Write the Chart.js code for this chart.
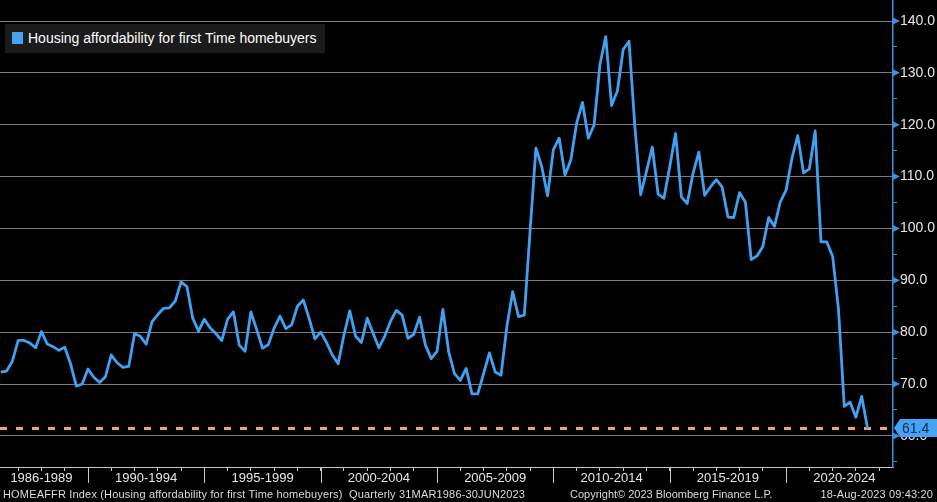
<!DOCTYPE html>
<html lang="en">
<head>
<meta charset="UTF-8" />
<title>HOMEAFFR Index</title>
<script src="https://cdn.jsdelivr.net/npm/chart.js@4.4.1/dist/chart.umd.min.js"></script>
<style>
*,*::before,*::after{box-sizing:border-box}
html,body{margin:0;padding:0;background:#000}
.wrap{position:relative;width:937px;height:502px;background:#000;font-family:"Liberation Sans",Arial,sans-serif}
#chart{display:block}
/* legend box, top left */
.legend{position:absolute;left:5px;top:24px;width:320px;height:29px;background:#1b1b1b;color:#fff;font-size:14px;line-height:29px;padding-left:23px;white-space:nowrap}
.legend i{position:absolute;left:7px;top:8px;width:11px;height:12px;background:#46a2f2}
/* footer line */
.foot{position:absolute;top:487px;font-size:11px;line-height:14px;color:#dcdcdc;white-space:nowrap}
</style>
</head>
<body>
<div class="wrap">
  <canvas id="chart" width="937" height="502"></canvas>
  <div class="legend"><i></i>Housing affordability for first Time homebuyers</div>
  <div class="foot" style="left:3px;letter-spacing:.17px">HOMEAFFR Index (Housing affordability for first Time homebuyers)&nbsp; Quarterly 31MAR1986-30JUN2023</div>
  <div class="foot" style="left:570px">Copyright&copy; 2023 Bloomberg Finance L.P.</div>
  <div class="foot" style="right:4px;letter-spacing:.15px">18-Aug-2023 09:43:20</div>
</div>

<script>
/* ── data: quarterly, 1986 Q1 .. 2023 Q2 ─────────────────────────── */
const firstQuarter = 1986.25;   // end of Q1 1986, in years
const quarterStep  = 0.25;
const affordability = [
  72.3, 72.5, 74.4, 78.4, 78.4, 77.9, 77.0, 80.1, 77.7, 77.2,
  76.5, 77.1, 73.9, 69.6, 70.0, 72.9, 71.3, 70.3, 71.4, 75.6,
  74.1, 73.2, 73.4, 79.7, 79.2, 77.7, 82.0, 83.4, 84.6, 84.7,
  86.0, 89.7, 88.8, 82.7, 80.2, 82.5, 80.8, 79.7, 78.4, 82.5,
  83.9, 77.5, 76.3, 83.9, 80.5, 76.9, 77.6, 80.8, 83.1, 80.7,
  81.4, 85.0, 86.2, 82.7, 78.7, 80.0, 78.0, 75.6, 73.9, 79.5,
  84.1, 79.2, 78.0, 82.7, 79.8, 77.0, 79.2, 82.1, 84.2, 83.3,
  78.8, 79.6, 82.9, 77.5, 74.9, 76.3, 84.4, 76.2, 72.0, 70.7,
  73.0, 68.1, 68.1, 72.0, 76.0, 72.3, 71.7, 81.1, 87.8, 83.0,
  83.3, 99.7, 115.5, 111.9, 106.3, 115.2, 117.4, 110.3, 113.2, 120.3,
  124.3, 117.4, 120.0, 131.6, 137.0, 123.7, 126.5, 134.5, 136.1, 119.7,
  106.5, 111.0, 115.7, 106.6, 105.8, 111.9, 118.3, 106.1, 104.8, 110.6,
  114.7, 106.4, 108.0, 109.4, 108.0, 102.2, 102.1, 106.9, 105.1, 94.0,
  94.7, 96.5, 102.1, 100.4, 105.1, 107.4, 113.5, 117.9, 110.7, 111.5,
  118.8, 97.4, 97.4, 94.6, 84.5, 65.7, 66.5, 63.6, 67.6, 61.4
];
const lastValue = 61.4;

/* ── axes ───────────────────────────────────────────────────────── */
const rangeLabels = ['1986-1989','1990-1994','1995-1999','2000-2004','2005-2009','2010-2014','2015-2019','2020-2024'];
const rangeStarts = [1986, 1990, 1995, 2000, 2005, 2010, 2015, 2020];
const rangeEnds   = [1990, 1995, 2000, 2005, 2010, 2015, 2020, 2025];
const yearTicks   = [];
for (let yr = 1987; yr <= 2024; yr++) yearTicks.push(yr);
const yTicks      = [55,60,65,70,75,80,85,90,95,100,105,110,115,120,125,130,135,140];
const xMin = 1986.218, xMax = 2024.594;
const yMin = 54, yMax = 144.05;

const lineBlue = '#42a0f0', axisBlue = '#3b8fdf', tagBlue = '#46a2f2';
const orange = '#f3a35c', gridGrey = '#7d7d7d', axisGrey = '#c8c8c8';

const labelAt = new Map(rangeLabels.map((l,i)=>[(rangeStarts[i]+rangeEnds[i])/2, l]));
const xTickValues = [...new Set([...yearTicks, ...labelAt.keys()])].sort((a,b)=>a-b);

const points = affordability.map((v,i)=>({x:firstQuarter + i*quarterStep, y:v}));

/* ── decorations: range separators, arrow ticks, last-value tag ─── */
const decor = {
  id:'decor',
  afterDraw(chart){
    const {ctx, chartArea:a, scales:{x, y}} = chart;
    ctx.save();
    ctx.strokeStyle = axisGrey; ctx.lineWidth = 1;
    rangeStarts.forEach(yr=>{
      const px = Math.round(x.getPixelForValue(yr)) + .5;
      if (px < a.left || px > a.right) return;
      ctx.beginPath(); ctx.moveTo(px, a.bottom); ctx.lineTo(px, a.bottom + 16); ctx.stroke();
    });
    ctx.fillStyle = axisBlue;
    yTicks.filter(v=>v%10===0).forEach(v=>{
      const py = y.getPixelForValue(v);
      ctx.beginPath(); ctx.moveTo(a.right, py-3.5); ctx.lineTo(a.right+7, py); ctx.lineTo(a.right, py+3.5); ctx.fill();
    });
    const py = Math.round(y.getPixelForValue(lastValue)) - 1;
    ctx.fillStyle = tagBlue;
    ctx.beginPath();
    ctx.moveTo(a.right+1, py); ctx.lineTo(a.right+7, py-9); ctx.lineTo(chart.width, py-9);
    ctx.lineTo(chart.width, py+9); ctx.lineTo(a.right+7, py+9); ctx.closePath(); ctx.fill();
    ctx.fillStyle = '#0f2c52'; ctx.font = '14px "Liberation Sans", Arial, sans-serif';
    ctx.textBaseline = 'middle'; ctx.textAlign = 'left';
    ctx.fillText(lastValue.toFixed(1), a.right+9, py+1);
    ctx.restore();
  }
};

const zeroPad = s => { s.paddingTop = 0; s.paddingBottom = 0; s.paddingLeft = 0; s.paddingRight = 0; };

new Chart(document.getElementById('chart'), {
  type:'line',
  data:{
    datasets:[
      {label:'Housing affordability for first Time homebuyers', data:points, borderColor:lineBlue, borderWidth:2.8, pointRadius:0, tension:0, borderJoinStyle:'round'},
      {label:'last', data:[{x:xMin, y:lastValue},{x:xMax, y:lastValue}], borderColor:orange, borderWidth:3, borderDash:[7,9], pointRadius:0}
    ]
  },
  options:{
    responsive:false, animation:false,
    layout:{padding:0},
    plugins:{legend:{display:false}, tooltip:{enabled:false}},
    scales:{
      x:{
        type:'linear', min:xMin, max:xMax,
        afterBuildTicks:s=>{ s.ticks = xTickValues.map(v=>({value:v})); },
        afterFit:s=>{ s.height = 35; zeroPad(s); },
        ticks:{autoSkip:false, maxRotation:0, minRotation:0, padding:1, color:'#e6e6e6',
               font:{family:'"Liberation Sans", Arial, sans-serif', size:13, lineHeight:1},
               callback:v=>labelAt.get(v) || ''},
        grid:{drawOnChartArea:false, tickLength:4,
              tickColor:c=>Number.isInteger(c.tick && c.tick.value) ? axisGrey : 'rgba(0,0,0,0)'},
        border:{display:true, color:axisGrey, width:1}
      },
      y:{
        type:'linear', position:'right', min:yMin, max:yMax,
        afterBuildTicks:s=>{ s.ticks = yTicks.map(v=>({value:v})); },
        afterFit:s=>{ s.width = 44; zeroPad(s); },
        ticks:{padding:3, color:'#e6e6e6', font:{family:'"Liberation Sans", Arial, sans-serif', size:14},
               callback:v=>v%10===0 ? v.toFixed(1) : ''},
        grid:{color:c=>c.tick && c.tick.value%10===0 ? gridGrey : 'rgba(0,0,0,0)', lineWidth:1,
              tickLength:4, tickColor:axisBlue},
        border:{display:true, color:axisBlue, width:1.5}
      }
    }
  },
  plugins:[decor]
});
</script>
</body>
</html>
